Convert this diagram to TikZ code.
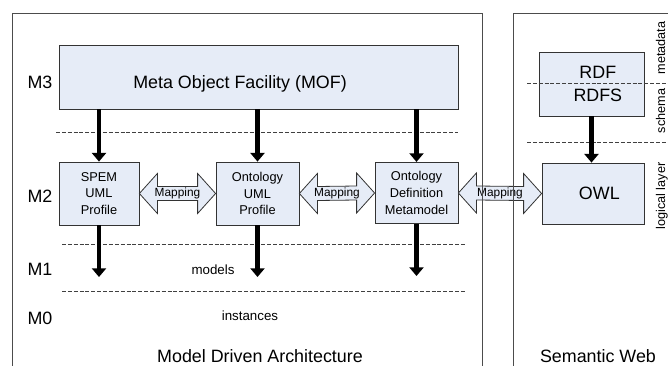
\documentclass[tikz,border=0pt]{standalone}
\usepackage{fontspec}
\setmainfont{Liberation Sans}
\usetikzlibrary{arrows.meta,calc}
\definecolor{boxfill}{RGB}{230,236,247}

% double-headed block arrow between two boxes, labelled "Mapping"
\newcommand\mappingarrow[3]{%
  \path[maparrow] (#1.east) -- ($(#1.east)+(18,-20)$) -- ($(#1.east)+(18,-7)$)
    -- ($(#2.west)+(-18,-7)$) -- ($(#2.west)+(-18,-20)$) -- (#2.west)
    -- ($(#2.west)+(-18,20)$) -- ($(#2.west)+(-18,7)$)
    -- ($(#1.east)+(18,7)$) -- ($(#1.east)+(18,20)$) -- cycle;
  \node[maplabel] (#3) at ($(#1.east)!0.5!(#2.west)$) {Mapping};}
% left padding that moves a centred line a little to the right
\newcommand\padl{\hspace*{9.5pt}}

\begin{document}
\begin{tikzpicture}[x=0.75pt,y=-0.75pt,
  box/.style={draw=black!80, line width=0.6pt, fill=boxfill, inner sep=0pt,
    align=center, font=\fontsize{9.6}{12.5}\selectfont},
  bigbox/.style={box, font=\fontsize{13.4}{17.3}\selectfont},
  bigtext/.style={font=\fontsize{13.4}{16}\selectfont, inner sep=0pt, anchor=base},
  smalltext/.style={font=\fontsize{10}{12}\selectfont, inner sep=0pt, anchor=base},
  sidetext/.style={font=\fontsize{9.5}{12}\selectfont, inner sep=0pt, anchor=base, rotate=90},
  layerline/.style={draw=black!75, line width=0.6pt, dash pattern=on 3pt off 1.4pt},
  flow/.style={line width=3.5pt, -{Triangle[width=10.5pt,length=6.5pt]}},
  maparrow/.style={draw=black!80, line width=0.6pt, fill=boxfill, line join=miter},
  maplabel/.style={font=\fontsize{8.9}{10}\selectfont, inner sep=0pt},
  frame/.style={draw=black!70, line width=0.75pt}
]
\useasboundingbox (0,0) rectangle (668,365);
\clip (0,0) rectangle (668,365);

% --- boxes ---
\node[box, minimum width=299.25pt, minimum height=48pt] (mof) at (258.5,77) {};
\node[box, minimum width=60pt, minimum height=47.25pt] (spem) at (99,193.5) {SPEM\\UML\\Profile};
\node[box, minimum width=62.25pt, minimum height=47.25pt] (ontuml) at (257.5,193.5) {Ontology\\UML\\Profile};
\node[box, minimum width=62.25pt, minimum height=46pt] (odm) at (416.5,193) {Ontology\\Definition\\Metamodel};
\node[bigbox, minimum width=78.75pt, minimum height=48pt] (rdf) at (591.5,84) {\padl RDF\\\padl RDFS};
\node[bigbox, minimum width=76.5pt, minimum height=45.75pt] (owl) at (593,193.5) {\padl OWL};

% --- layer separators ---
\draw[layerline] (56,132) -- (458,132);
\draw[layerline] (62,244) -- (465,244);
\draw[layerline] (62,291) -- (465,291);
\draw[layerline] (527,83) -- (668,83);
\draw[layerline] (527,142) -- (668,142);

% --- texts ---
\node[bigtext] (moftext) at (240,88) {Meta Object Facility (MOF)};
\node[bigtext] (m3) at (40,88.5) {M3};
\node[bigtext] (m2) at (40,202) {M2};
\node[bigtext] (m1) at (40,275) {M1};
\node[bigtext] (m0) at (40,324) {M0};
\node[smalltext] (models) at (213,274) {models};
\node[smalltext] (instances) at (250,320) {instances};
\node[bigtext] (mda) at (260,362) {Model Driven Architecture};
\node[bigtext] (sw) at (598,362) {Semantic Web};
\node[sidetext] (metadata) at (665,48) {metadata};
\node[sidetext] (schema) at (665,111) {schema};
\node[sidetext] (logical) at (665,196) {logical layer};

% --- instantiation arrows ---
\draw[flow] (spem.north |- mof.south) -- (spem.north);
\draw[flow] (ontuml.north |- mof.south) -- (ontuml.north);
\draw[flow] (odm.north |- mof.south) -- (odm.north);
\coordinate (spemEnd) at (99,277);
\coordinate (ontumlEnd) at (257.5,277);
\coordinate (odmEnd) at (416.5,276);
\draw[flow] (spem.south) -- (spemEnd);
\draw[flow] (ontuml.south) -- (ontumlEnd);
\draw[flow] (odm.south) -- (odmEnd);
\draw[flow] (rdf.south) -- (rdf.south |- owl.north);

% --- mappings ---
\mappingarrow{spem}{ontuml}{map1}
\mappingarrow{ontuml}{odm}{map2}
\mappingarrow{odm}{owl}{map3}

% --- frames ---
\draw[frame] (12,370) -- (12,13) -- (482,13) -- (482,370);
\draw[frame] (513,370) -- (513,13) -- (675,13);
\end{tikzpicture}
\end{document}
